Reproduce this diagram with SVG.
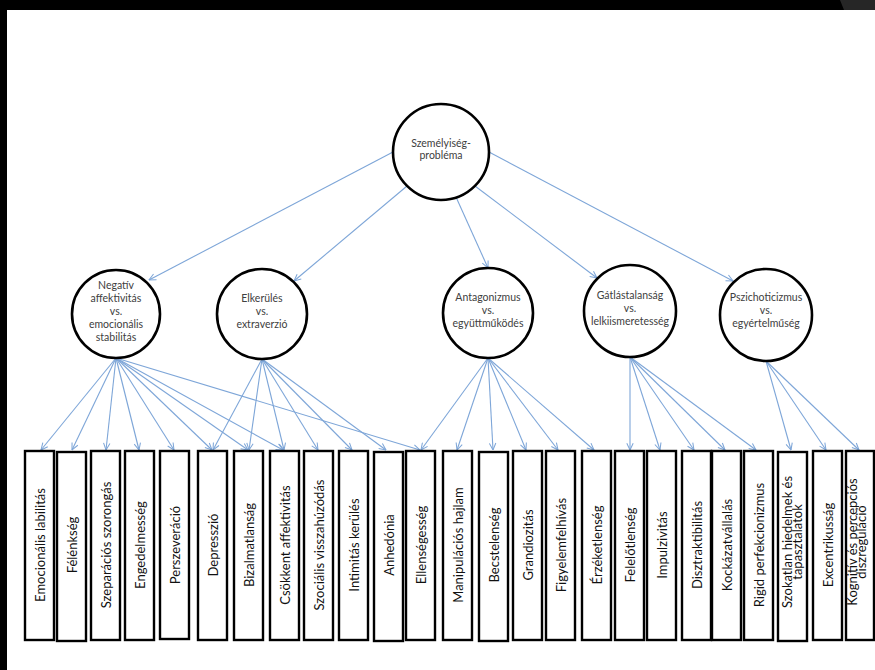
<svg xmlns="http://www.w3.org/2000/svg" width="875" height="670" viewBox="0 0 875 670">
<style>
.node-c{fill:#fff;stroke:#000;stroke-width:2.6}
.box{fill:#fff;stroke:#000;stroke-width:2.4}
.ct{font-family:Lato,"Liberation Sans",sans-serif;font-size:10.5px;fill:#404040;text-anchor:middle}
.bt{font-family:Lato,"Liberation Sans",sans-serif;font-size:13px;fill:#111;text-anchor:middle}
.cn{stroke:#7ea6d8;stroke-width:1.1;fill:none;marker-end:url(#arr)}
</style>
<defs>
<marker id="arr" viewBox="0 0 10 10" refX="9.5" refY="5" markerWidth="8" markerHeight="8" markerUnits="userSpaceOnUse" orient="auto">
<path d="M1,1 L9.5,5 L1,9" fill="none" stroke="#7ea6d8" stroke-width="1.3"/>
</marker>
</defs>
<rect x="0" y="0" width="875" height="670" fill="#fff"/>
<rect x="0" y="0" width="875" height="10" fill="#000"/>
<rect x="0" y="0" width="7" height="670" fill="#000"/>
<polygon points="840,0 875,0 875,10 844,10" fill="#262626"/>

<g id="connectors">
<line class="cn" x1="393" y1="152" x2="149" y2="280"/>
<line class="cn" x1="407" y1="186" x2="294" y2="281"/>
<line class="cn" x1="456" y1="197" x2="488" y2="268"/>
<line class="cn" x1="475" y1="186" x2="597" y2="278"/>
<line class="cn" x1="489" y1="152" x2="733" y2="281"/>

<line class="cn" x1="116" y1="358" x2="41" y2="450"/>
<line class="cn" x1="116" y1="358" x2="72" y2="450"/>
<line class="cn" x1="116" y1="358" x2="106" y2="450"/>
<line class="cn" x1="116" y1="358" x2="139" y2="450"/>
<line class="cn" x1="116" y1="358" x2="174" y2="450"/>
<line class="cn" x1="116" y1="358" x2="212" y2="450"/>
<line class="cn" x1="116" y1="358" x2="248" y2="450"/>
<line class="cn" x1="116" y1="358" x2="283" y2="450"/>
<line class="cn" x1="116" y1="358" x2="420" y2="450"/>

<line class="cn" x1="262" y1="359" x2="213" y2="450"/>
<line class="cn" x1="262" y1="359" x2="249" y2="450"/>
<line class="cn" x1="262" y1="359" x2="284" y2="450"/>
<line class="cn" x1="262" y1="359" x2="318" y2="450"/>
<line class="cn" x1="262" y1="359" x2="352" y2="450"/>
<line class="cn" x1="262" y1="359" x2="386" y2="450"/>

<line class="cn" x1="488" y1="358" x2="421" y2="450"/>
<line class="cn" x1="488" y1="358" x2="457" y2="450"/>
<line class="cn" x1="488" y1="358" x2="493" y2="450"/>
<line class="cn" x1="488" y1="358" x2="526" y2="450"/>
<line class="cn" x1="488" y1="358" x2="558" y2="450"/>
<line class="cn" x1="488" y1="358" x2="594" y2="450"/>

<line class="cn" x1="630" y1="357" x2="630" y2="450"/>
<line class="cn" x1="630" y1="357" x2="660" y2="450"/>
<line class="cn" x1="630" y1="357" x2="694" y2="450"/>
<line class="cn" x1="630" y1="357" x2="725" y2="450"/>
<line class="cn" x1="630" y1="357" x2="756" y2="450"/>

<line class="cn" x1="766" y1="361" x2="791" y2="450"/>
<line class="cn" x1="766" y1="361" x2="826" y2="450"/>
<line class="cn" x1="766" y1="361" x2="859" y2="450"/>
</g>

<g id="szemelyiseg">
<circle class="node-c" cx="441" cy="152" r="48"/>
<text class="ct" x="441" y="146.5">Személyiség-</text>
<text class="ct" x="441" y="158.5">probléma</text>
</g>

<g id="negativ">
<circle class="node-c" cx="116" cy="314" r="44"/>
<text class="ct" x="116" y="289">Negatív</text>
<text class="ct" x="116" y="302">affektivitás</text>
<text class="ct" x="116" y="315">vs.</text>
<text class="ct" x="116" y="328">emocionális</text>
<text class="ct" x="116" y="341">stabilitás</text>
</g>

<g id="elkerules">
<circle class="node-c" cx="262" cy="314" r="45"/>
<text class="ct" x="262" y="302">Elkerülés</text>
<text class="ct" x="262" y="315">vs.</text>
<text class="ct" x="262" y="328">extraverzió</text>
</g>

<g id="antagonizmus">
<circle class="node-c" cx="488" cy="313" r="45"/>
<text class="ct" x="488" y="301">Antagonizmus</text>
<text class="ct" x="488" y="314">vs.</text>
<text class="ct" x="488" y="327">együttműködés</text>
</g>

<g id="gatlastalansag">
<circle class="node-c" cx="630" cy="311" r="46"/>
<text class="ct" x="630" y="299">Gátlástalanság</text>
<text class="ct" x="630" y="312">vs.</text>
<text class="ct" x="630" y="325">lelkiismeretesség</text>
</g>

<g id="pszichoticizmus">
<circle class="node-c" cx="766" cy="315" r="46"/>
<text class="ct" x="766" y="301">Pszichoticizmus</text>
<text class="ct" x="766" y="314">vs.</text>
<text class="ct" x="766" y="327">egyértelműség</text>
</g>

<g id="b1"><rect class="box" x="25" y="451" width="29" height="189"/><text class="bt" transform="translate(39.5,545) rotate(-90)" y="5">Emocionális labilitás</text></g>
<g id="b2"><rect class="box" x="57" y="452" width="29" height="189"/><text class="bt" transform="translate(71.5,545) rotate(-90)" y="5">Félénkség</text></g>
<g id="b3"><rect class="box" x="91" y="451" width="29" height="189"/><text class="bt" transform="translate(105.5,545) rotate(-90)" y="5">Szeparációs szorongás</text></g>
<g id="b4"><rect class="box" x="125" y="451" width="29" height="189"/><text class="bt" transform="translate(139.5,545) rotate(-90)" y="5">Engedelmesség</text></g>
<g id="b5"><rect class="box" x="160" y="451" width="29" height="188"/><text class="bt" transform="translate(174.5,545) rotate(-90)" y="5">Perszeveráció</text></g>
<g id="b6"><rect class="box" x="198" y="451" width="29" height="189"/><text class="bt" transform="translate(212.5,545) rotate(-90)" y="5">Depresszió</text></g>
<g id="b7"><rect class="box" x="234" y="451" width="29" height="189"/><text class="bt" transform="translate(248.5,545) rotate(-90)" y="5">Bizalmatlanság</text></g>
<g id="b8"><rect class="box" x="270" y="451" width="29" height="189"/><text class="bt" transform="translate(284.5,545) rotate(-90)" y="5">Csökkent affektivitás</text></g>
<g id="b9"><rect class="box" x="304" y="451" width="29" height="189"/><text class="bt" transform="translate(318.5,545) rotate(-90)" y="5">Szociális visszahúzódás</text></g>
<g id="b10"><rect class="box" x="339" y="451" width="29" height="189"/><text class="bt" transform="translate(353.5,545) rotate(-90)" y="5">Intimitás kerülés</text></g>
<g id="b11"><rect class="box" x="374" y="452" width="29" height="189"/><text class="bt" transform="translate(388.5,545) rotate(-90)" y="5">Anhedónia</text></g>
<g id="b12"><rect class="box" x="406" y="451" width="29" height="189"/><text class="bt" transform="translate(420.5,545) rotate(-90)" y="5">Ellenségesség</text></g>
<g id="b13"><rect class="box" x="443" y="451" width="29" height="189"/><text class="bt" transform="translate(457.5,545) rotate(-90)" y="5">Manipulációs hajlam</text></g>
<g id="b14"><rect class="box" x="479" y="452" width="29" height="189"/><text class="bt" transform="translate(493.5,545) rotate(-90)" y="5">Becstelenség</text></g>
<g id="b15"><rect class="box" x="513" y="451" width="29" height="189"/><text class="bt" transform="translate(527.5,545) rotate(-90)" y="5">Grandiozitás</text></g>
<g id="b16"><rect class="box" x="546" y="451" width="29" height="189"/><text class="bt" transform="translate(560.5,545) rotate(-90)" y="5">Figyelemfelhívás</text></g>
<g id="b17"><rect class="box" x="582" y="451" width="29" height="189"/><text class="bt" transform="translate(596.5,545) rotate(-90)" y="5">Érzéketlenség</text></g>
<g id="b18"><rect class="box" x="615" y="451" width="29" height="189"/><text class="bt" transform="translate(629.5,545) rotate(-90)" y="5">Felelőtlenség</text></g>
<g id="b19"><rect class="box" x="647" y="451" width="29" height="189"/><text class="bt" transform="translate(661.5,545) rotate(-90)" y="5">Impulzivitás</text></g>
<g id="b20"><rect class="box" x="682" y="451" width="29" height="189"/><text class="bt" transform="translate(696.5,545) rotate(-90)" y="5">Disztraktibilitás</text></g>
<g id="b21"><rect class="box" x="712" y="451" width="29" height="189"/><text class="bt" transform="translate(726.5,545) rotate(-90)" y="5">Kockázatvállalás</text></g>
<g id="b22"><rect class="box" x="744" y="451" width="29" height="189"/><text class="bt" transform="translate(758.5,545) rotate(-90)" y="5">Rigid perfekcionizmus</text></g>
<g id="b23"><rect class="box" x="778" y="452" width="29" height="189"/><text class="bt" transform="translate(792.5,542) rotate(-90)" y="-0.5">Szokatlan hiedelmek és</text><text class="bt" transform="translate(792.5,542) rotate(-90)" y="9">tapasztalatok</text></g>
<g id="b24"><rect class="box" x="813" y="451" width="29" height="189"/><text class="bt" transform="translate(827.5,545) rotate(-90)" y="5">Excentrikusság</text></g>
<g id="b25"><rect class="box" x="846" y="451" width="28" height="189"/><text class="bt" transform="translate(860.5,542) rotate(-90)" y="-4">Kognitív és percepciós</text><text class="bt" transform="translate(860.5,542) rotate(-90)" y="5">diszreguláció</text></g>
</svg>
